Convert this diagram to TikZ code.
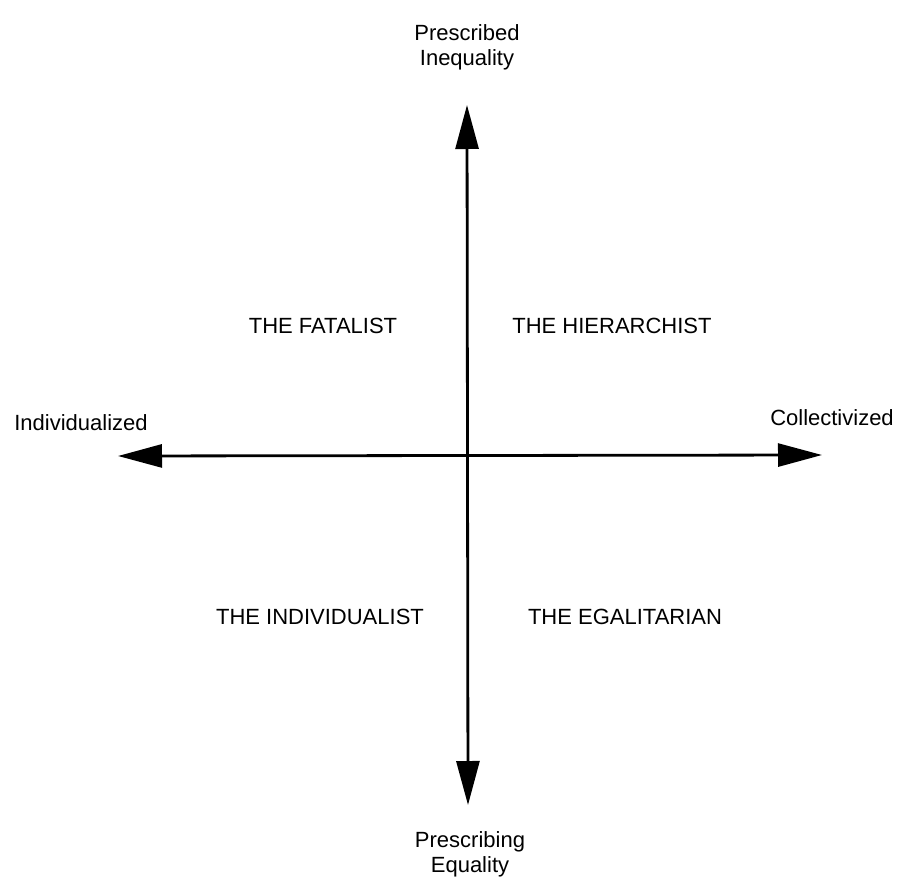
\documentclass[tikz,border=0pt]{standalone}
\usepackage{fontspec}
\setmainfont{Liberation Sans}
\usetikzlibrary{arrows.meta}
\begin{document}
\begin{tikzpicture}[x=1pt,y=-1pt,
  lbl/.style={font=\fontsize{22}{25}\selectfont, inner sep=0pt, text=black},
  axis/.style={line width=2.8pt, draw=black, {Triangle[length=44pt,width=23pt]}-{Triangle[length=44pt,width=23pt]}}]
\useasboundingbox (0,0) rectangle (898,878);
\fill[white] (0,0) rectangle (898,878);
\coordinate (top) at (467,105);
\coordinate (bottom) at (468,805);
\coordinate (left) at (118,456);
\coordinate (right) at (822,455);
\draw[axis] (top) -- (bottom);
\draw[axis] (left) -- (right);
\node[lbl, align=center] (ineq) at (467,47) {Prescribed\\Inequality};
\node[lbl, align=center] (eq) at (470,854) {Prescribing\\Equality};
\node[lbl, anchor=base] (indz) at (81,430) {Individualized};
\node[lbl, anchor=base] (coll) at (832,425) {Collectivized};
\node[lbl, anchor=base] (fat) at (323,333) {THE FATALIST};
\node[lbl, anchor=base] (hier) at (612,333) {THE HIERARCHIST};
\node[lbl, anchor=base] (ind) at (320,624) {THE INDIVIDUALIST};
\node[lbl, anchor=base] (ega) at (625,624) {THE EGALITARIAN};
\end{tikzpicture}
\end{document}
